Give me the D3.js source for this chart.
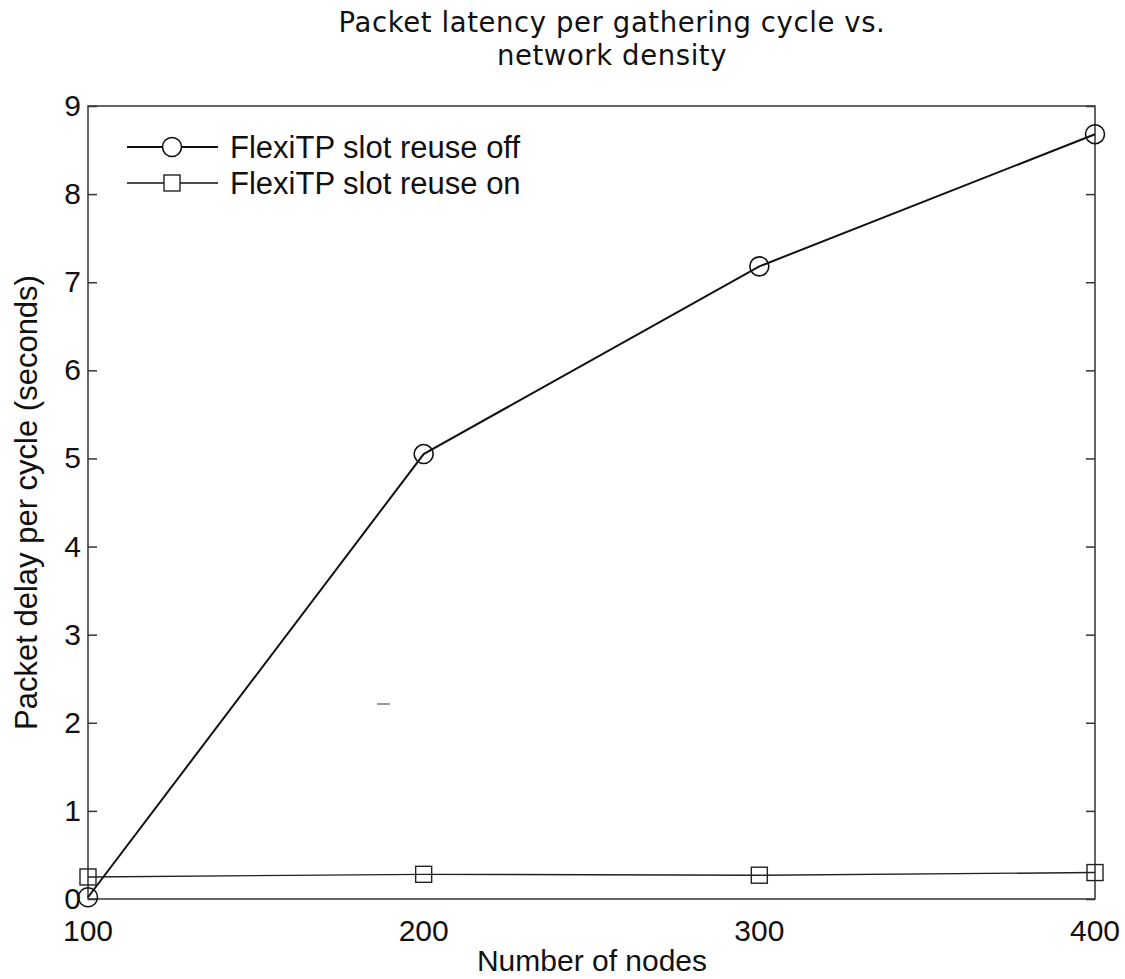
<!DOCTYPE html>
<html>
<head>
<meta charset="utf-8">
<script src="https://cdn.jsdelivr.net/npm/d3@7"></script>
<style>
  body { margin: 0; background: #fff; }
  svg text { fill: #111; }
</style>
</head>
<body>
<svg id="chart" width="1125" height="979"></svg>
<script>
// data
var nodes = [100, 200, 300, 400];
var reuseOff = [0.02, 5.05, 7.18, 8.68];
var reuseOn = [0.25, 0.28, 0.27, 0.30];
var yTicks = [0, 1, 2, 3, 4, 5, 6, 7, 8, 9];
var seriesNames = ["FlexiTP slot reuse off", "FlexiTP slot reuse on"];

var margin = { left: 88, right: 30, top: 106, bottom: 80 };
var width = 1125, height = 979;
var svg = d3.select("#chart");

var x = d3.scaleLinear().domain([100, 400]).range([margin.left, width - margin.right]);
var y = d3.scaleLinear().domain([0, 9]).range([height - margin.bottom, margin.top]);

// title
svg.append("text")
    .attr("x", 612).attr("y", 32)
    .attr("text-anchor", "middle")
    .style("font-family", "DejaVu Sans")
    .style("font-size", "27.5px")
    .style("letter-spacing", "0.6px")
    .text("Packet latency per gathering cycle vs.");
svg.append("text")
    .attr("x", 612).attr("y", 65)
    .attr("text-anchor", "middle")
    .style("font-family", "DejaVu Sans")
    .style("font-size", "27.5px")
    .style("letter-spacing", "0.6px")
    .text("network density");

// box
svg.append("rect")
    .attr("x", x(100)).attr("y", y(9))
    .attr("width", x(400) - x(100)).attr("height", y(0) - y(9))
    .attr("fill", "none").attr("stroke", "#333").attr("stroke-width", 1.5);

// y axis left, ticks inward
var yAxis = svg.append("g")
    .attr("transform", "translate(" + x(100) + ",0)")
    .call(d3.axisRight(y).tickValues(yTicks).tickSize(9).tickFormat(""));
yAxis.select(".domain").remove();
yAxis.selectAll("line").attr("stroke", "#333").attr("stroke-width", 1.5);

svg.append("g").selectAll("text")
    .data(yTicks)
    .join("text")
    .attr("x", x(100) - 7)
    .attr("y", d => y(d) + 10)
    .attr("text-anchor", "end")
    .style("font-family", "Liberation Sans")
    .style("font-size", "30px")
    .text(d => d);

// y axis right mirror ticks
var yAxisR = svg.append("g")
    .attr("transform", "translate(" + x(400) + ",0)")
    .call(d3.axisLeft(y).tickValues(yTicks).tickSize(9).tickFormat(""));
yAxisR.select(".domain").remove();
yAxisR.selectAll("line").attr("stroke", "#333").attr("stroke-width", 1.5);

// x tick labels
svg.append("g").selectAll("text")
    .data(nodes)
    .join("text")
    .attr("x", d => x(d))
    .attr("y", y(0) + 42)
    .attr("text-anchor", "middle")
    .style("font-family", "Liberation Sans")
    .style("font-size", "30px")
    .text(d => d);

// axis titles
svg.append("text")
    .attr("x", 592).attr("y", 971)
    .attr("text-anchor", "middle")
    .style("font-family", "Liberation Sans")
    .style("font-size", "30px")
    .text("Number of nodes");
svg.append("text")
    .attr("transform", "translate(37," + y(4.5) + ") rotate(-90)")
    .attr("text-anchor", "middle")
    .style("font-family", "Liberation Sans")
    .style("font-size", "31px")
    .text("Packet delay per cycle (seconds)");

var line = d3.line().x(d => x(d[0])).y(d => y(d[1]));

var offPts = nodes.map((n, i) => [n, reuseOff[i]]);
var onPts = nodes.map((n, i) => [n, reuseOn[i]]);

svg.append("path").datum(onPts)
    .attr("d", line).attr("fill", "none")
    .attr("stroke", "#222").attr("stroke-width", 1.4);
svg.append("path").datum(offPts)
    .attr("d", line).attr("fill", "none")
    .attr("stroke", "#111").attr("stroke-width", 2);

svg.append("g").selectAll("rect")
    .data(onPts)
    .join("rect")
    .attr("x", d => x(d[0]) - 8).attr("y", d => y(d[1]) - 8)
    .attr("width", 16).attr("height", 16)
    .attr("fill", "none").attr("stroke", "#222").attr("stroke-width", 1.4);
svg.append("g").selectAll("circle")
    .data(offPts)
    .join("circle")
    .attr("cx", d => x(d[0])).attr("cy", d => y(d[1]))
    .attr("r", 9.5)
    .attr("fill", "none").attr("stroke", "#111").attr("stroke-width", 1.6);

// stray mark in the source
svg.append("line")
    .attr("x1", 377).attr("x2", 390).attr("y1", 704).attr("y2", 704)
    .attr("stroke", "#777").attr("stroke-width", 1.5);

// legend
var legend = svg.append("g");
seriesNames.forEach(function (name, i) {
    var ly = 147 + i * 36;
    legend.append("line")
        .attr("x1", 127).attr("x2", 218).attr("y1", ly).attr("y2", ly)
        .attr("stroke", "#111").attr("stroke-width", i === 0 ? 2 : 1.4);
    if (i === 0) {
        legend.append("circle").attr("cx", 172).attr("cy", ly).attr("r", 9.5)
            .attr("fill", "#fff").attr("stroke", "#111").attr("stroke-width", 1.6);
    } else {
        legend.append("rect").attr("x", 164).attr("y", ly - 8).attr("width", 16).attr("height", 16)
            .attr("fill", "#fff").attr("stroke", "#222").attr("stroke-width", 1.4);
    }
    legend.append("text")
        .attr("x", 230).attr("y", ly + 11)
        .style("font-family", "Liberation Sans")
        .style("font-size", "31px")
        .text(name);
});
</script>
</body>
</html>
